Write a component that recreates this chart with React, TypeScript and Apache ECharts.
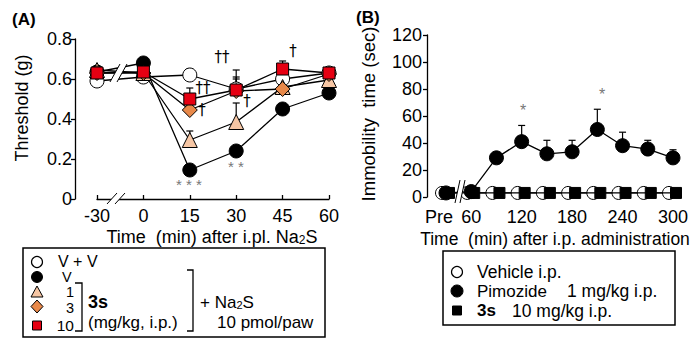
import React, { useEffect, useRef } from "react";
import * as echarts from "echarts";

// ---------- Panel A data ----------
const catsA = ["-30", "0", "15", "30", "45", "60"];
const vvA = [0.59, 0.61, 0.62, 0.55, 0.6, 0.63];
const vA = [0.635, 0.68, 0.145, 0.24, 0.45, 0.53];
const d1A = [0.645, 0.63, 0.295, 0.385, 0.56, 0.595];
const d3A = [0.63, 0.63, 0.445, 0.54, 0.55, 0.625];
const d10A = [0.63, 0.635, 0.5, 0.545, 0.65, 0.63];
const vvErrA = [null, null, 0.65, 0.61, null, null];
const vErrA = [null, 0.7, null, null, null, null];
const d1ErrA = [null, null, 0.34, 0.48, null, null];
const d3ErrA = [null, null, 0.47, 0.6, null, null];
const d10ErrA = [null, null, 0.555, 0.645, 0.69, null];

// ---------- Panel B data ----------
const catsB = ["Pre", "60", "90", "120", "150", "180", "210", "240", "270", "300"];
const shownB = ["Pre", "60", "120", "180", "240", "300"];
const vehicleB = [3, 3, 3, 3, 3, 3, 3, 3, 3, 3];
const pimozideB = [3, 4, 29, 41, 32, 33.5, 50, 38, 35.5, 29];
const pimozideErrB = [null, null, null, 53, 42, 42, 65, 48, 42, 35];
const s3B = [3, 3, 3, 3, 3, 3, 3, 3, 3, 3];

const FONT = "Liberation Sans, Arial, sans-serif";

function errData(mean: number[], top: (number | null)[]) {
  const out: number[][] = [];
  top.forEach((t, i) => {
    if (t !== null) out.push([i, mean[i], t]);
  });
  return out;
}

const renderErr = (params: any, api: any) => {
  const x = api.value(0);
  const p0 = api.coord([x, api.value(1)]);
  const p1 = api.coord([x, api.value(2)]);
  return {
    type: "group",
    children: [
      { type: "line", shape: { x1: p0[0], y1: p0[1], x2: p1[0], y2: p1[1] }, style: { stroke: "#000", lineWidth: 1.2 } },
      { type: "line", shape: { x1: p1[0] - 3.5, y1: p1[1], x2: p1[0] + 3.5, y2: p1[1] }, style: { stroke: "#000", lineWidth: 1.2 } },
    ],
  };
};

function breakMark(x1: number, yb: number, x2: number, yt: number, gap: number) {
  return [
    {
      type: "polygon",
      shape: { points: [[x1, yb], [x2, yt], [x2 + gap, yt], [x1 + gap, yb]] },
      style: { fill: "#fff", stroke: "none" },
      z: 100,
    },
    { type: "line", shape: { x1: x1, y1: yb, x2: x2, y2: yt }, style: { stroke: "#000", lineWidth: 1 }, z: 101 },
    { type: "line", shape: { x1: x1 + gap, y1: yb, x2: x2 + gap, y2: yt }, style: { stroke: "#000", lineWidth: 1 }, z: 101 },
  ];
}

function txt(text: string, x: number, y: number, opts: any = {}) {
  const style: any = {
    text,
    fontFamily: opts.fontFamily || FONT,
    fontSize: opts.fontSize || 18,
    fontWeight: opts.fontWeight || "normal",
    fill: opts.fill || "#000",
    textAlign: opts.align || "left",
    textVerticalAlign: opts.valign || "middle",
  };
  if (opts.rich) style.rich = opts.rich;
  return { type: "text", x, y, z: 110, rotation: opts.rotation || 0, style };
}

const subRich = (fs: number) => ({
  a: { fontSize: fs, fontFamily: FONT, fill: "#000" },
  s: { fontSize: Math.round(fs * 0.65), fontFamily: FONT, fill: "#000", verticalAlign: "bottom", padding: [6, 0, 0, 0] },
});

export default function App() {
  const ref = useRef<HTMLDivElement>(null);
  useEffect(() => {
    if (!ref.current) return;
    const chart = echarts.init(ref.current, null, { renderer: "svg" });
    const lineStyle = { color: "#000", width: 1.3 };
    const itemBorder = { borderColor: "#000", borderWidth: 1 };
    const lineSeriesA = (name: string, data: number[], symbol: string, size: number, fill: string) => ({
      type: "line",
      name,
      xAxisIndex: 0,
      yAxisIndex: 0,
      data,
      symbol,
      symbolSize: size,
      showAllSymbol: true,
      lineStyle,
      itemStyle: { color: fill, ...itemBorder },
      z: 3,
    });
    const axisText = { color: "#000", fontFamily: FONT, fontSize: 18 };
    const dag = { align: "center", fontSize: 15, fontFamily: "DejaVu Sans, sans-serif", fill: "#000" };
    const lg = 14.5;
    const lgB = 17;

    const option: any = {
      animation: false,
      backgroundColor: "#fff",
      grid: [
        { left: 97, right: 371, top: 39, bottom: 148 },
        { left: 446, right: 27, top: 35, bottom: 150 },
      ],
      xAxis: [
        {
          type: "category",
          gridIndex: 0,
          data: catsA,
          boundaryGap: false,
          offset: 1,
          axisLine: { lineStyle: { color: "#000", width: 1.3 } },
          axisTick: { inside: true, length: 4, lineStyle: { color: "#000", width: 1.3 } },
          axisLabel: { ...axisText, margin: 7 },
        },
        {
          type: "category",
          gridIndex: 1,
          data: catsB,
          boundaryGap: false,
          axisLine: { show: false },
          axisTick: { show: false },
          axisLabel: {
            ...axisText,
            margin: 11,
            interval: 0,
            formatter: (v: string) => (v === "Pre" ? "{p|Pre}" : shownB.indexOf(v) >= 0 ? v : ""),
            rich: { p: { color: "#000", fontFamily: FONT, fontSize: 18, padding: [0, 14, 0, 0] } },
          },
        },
      ],
      yAxis: [
        {
          type: "value",
          gridIndex: 0,
          min: 0,
          max: 0.8,
          interval: 0.2,
          offset: 22,
          splitLine: { show: false },
          axisLine: { show: true, lineStyle: { color: "#000", width: 1.3 } },
          axisTick: { show: true, length: 4, lineStyle: { color: "#000", width: 1.3 } },
          axisLabel: { ...axisText, margin: 3, formatter: (v: number) => (v === 0 ? "0" : v.toFixed(1)) },
        },
        {
          type: "value",
          gridIndex: 1,
          min: 0,
          max: 120,
          interval: 20,
          offset: 19,
          splitLine: { show: false },
          axisLine: { show: true, lineStyle: { color: "#000", width: 1.3 } },
          axisTick: { show: true, length: 4, lineStyle: { color: "#000", width: 1.3 } },
          axisLabel: { ...axisText, margin: 5 },
        },
      ],
      series: [
        ...[
          [vvA, vvErrA],
          [vA, vErrA],
          [d1A, d1ErrA],
          [d3A, d3ErrA],
          [d10A, d10ErrA],
        ].map(([m, e]) => ({
          type: "custom",
          xAxisIndex: 0,
          yAxisIndex: 0,
          renderItem: renderErr,
          data: errData(m as number[], e as (number | null)[]),
          z: 2,
          silent: true,
        })),
        lineSeriesA("V + V", vvA, "circle", 14, "#fff"),
        lineSeriesA("V", vA, "circle", 14, "#000"),
        lineSeriesA("1", d1A, "triangle", 15, "#f6c6a4"),
        lineSeriesA("3", d3A, "diamond", 15, "#e8894a"),
        lineSeriesA("10", d10A, "rect", 12, "#e60012"),
        {
          type: "custom",
          xAxisIndex: 1,
          yAxisIndex: 1,
          renderItem: renderErr,
          data: errData(pimozideB, pimozideErrB),
          z: 2,
          silent: true,
        },
        {
          type: "line",
          name: "Vehicle",
          xAxisIndex: 1,
          yAxisIndex: 1,
          data: vehicleB,
          symbol: "circle",
          symbolSize: 13,
          symbolOffset: [-4, 0],
          showAllSymbol: true,
          lineStyle,
          itemStyle: { color: "#fff", ...itemBorder },
          z: 3,
        },
        {
          type: "line",
          name: "3s",
          xAxisIndex: 1,
          yAxisIndex: 1,
          data: s3B,
          symbol: "rect",
          symbolSize: 11,
          symbolOffset: [3, 0],
          showAllSymbol: true,
          lineStyle,
          itemStyle: { color: "#000", ...itemBorder },
          z: 4,
        },
        {
          type: "line",
          name: "Pimozide",
          xAxisIndex: 1,
          yAxisIndex: 1,
          data: pimozideB,
          symbol: "circle",
          symbolSize: 14,
          showAllSymbol: true,
          lineStyle,
          itemStyle: { color: "#000", ...itemBorder },
          z: 5,
        },
      ],
      graphic: [
        ...breakMark(107, 204, 117, 193, 8),
        ...breakMark(110, 82, 120, 64, 7),
        ...breakMark(455, 203, 460, 180, 5),
        txt("(A)", 12, 19, { fontWeight: "bold", fontSize: 17 }),
        txt("(B)", 356, 17, { fontWeight: "bold", fontSize: 17 }),
        txt("{a|Time  (min) after i.pl. Na}{s|2}{a|S}", 212, 237, { align: "center", rich: subRich(18) }),
        txt("Time  (min) after i.p. administration", 555, 239, { align: "center", fontSize: 17.5 }),
        txt("Threshold (g)", 22, 108, { align: "center", rotation: Math.PI / 2, fontSize: 18 }),
        txt("Immobility  time (sec)", 368, 114, { align: "center", rotation: Math.PI / 2, fontSize: 18.5 }),
        txt("* * *", 189, 184, { align: "center", fill: "#777", fontSize: 15 }),
        txt("* *", 236, 166, { align: "center", fill: "#777", fontSize: 15 }),
        txt("††", 222, 57, dag),
        txt("††", 203, 88, dag),
        txt("†", 202, 110, dag),
        txt("†", 247, 101, dag),
        txt("†", 293, 51, dag),
        txt("*", 523, 110, { align: "center", fill: "#777", fontSize: 16 }),
        txt("*", 602, 94, { align: "center", fill: "#777", fontSize: 16 }),
        // legend A
        { type: "rect", shape: { x: 23, y: 248, width: 302, height: 89 }, style: { fill: "#fff", stroke: "#000", lineWidth: 1.5 }, z: 90 },
        { type: "circle", shape: { cx: 37, cy: 262, r: 5.5 }, style: { fill: "#fff", stroke: "#000", lineWidth: 1.2 }, z: 110 },
        { type: "circle", shape: { cx: 37, cy: 277, r: 5.5 }, style: { fill: "#000", stroke: "#000", lineWidth: 1 }, z: 110 },
        { type: "polygon", shape: { points: [[37, 286], [43, 297], [31, 297]] }, style: { fill: "#f6c6a4", stroke: "#000", lineWidth: 1 }, z: 110 },
        { type: "polygon", shape: { points: [[37, 300], [43, 306.5], [37, 313], [31, 306.5]] }, style: { fill: "#e8894a", stroke: "#000", lineWidth: 1 }, z: 110 },
        { type: "rect", shape: { x: 32.5, y: 321, width: 9, height: 9 }, style: { fill: "#e60012", stroke: "#000", lineWidth: 1 }, z: 110 },
        txt("V + V", 58, 261, { fontSize: lg + 1.5 }),
        txt("V", 62, 277, { fontSize: lg }),
        txt("1", 74, 292, { fontSize: lg, align: "right" }),
        txt("3", 74, 308, { fontSize: lg, align: "right" }),
        txt("10", 74, 325, { fontSize: lg + 1, align: "right" }),
        { type: "polyline", shape: { points: [[75, 283], [82, 283], [82, 331], [75, 331]] }, style: { fill: "none", stroke: "#000", lineWidth: 1.3 }, z: 110 },
        { type: "polyline", shape: { points: [[187, 270], [193, 270], [193, 331], [187, 331]] }, style: { fill: "none", stroke: "#000", lineWidth: 1.3 }, z: 110 },
        txt("3s", 88, 302, { fontSize: 18, fontWeight: "bold" }),
        txt("(mg/kg, i.p.)", 88, 322, { fontSize: 17 }),
        txt("{a|+ Na}{s|2}{a|S}", 200, 302, { rich: subRich(17) }),
        txt("10 pmol/paw", 217, 322, { fontSize: 17 }),
        // legend B
        { type: "rect", shape: { x: 443, y: 251, width: 232, height: 74 }, style: { fill: "#fff", stroke: "#000", lineWidth: 1.5 }, z: 90 },
        { type: "circle", shape: { cx: 457, cy: 272, r: 5.5 }, style: { fill: "#fff", stroke: "#000", lineWidth: 1.2 }, z: 110 },
        { type: "circle", shape: { cx: 457, cy: 291, r: 6 }, style: { fill: "#000", stroke: "#000", lineWidth: 1 }, z: 110 },
        { type: "rect", shape: { x: 452.5, y: 306, width: 9, height: 9 }, style: { fill: "#000", stroke: "#000", lineWidth: 1 }, z: 110 },
        txt("Vehicle i.p.", 477, 272, { fontSize: lgB + 0.5 }),
        txt("Pimozide", 477, 291, { fontSize: lgB }),
        txt("1 mg/kg i.p.", 567, 291, { fontSize: lgB + 0.5 }),
        txt("3s", 477, 310.5, { fontSize: lgB, fontWeight: "bold" }),
        txt("10 mg/kg i.p.", 512, 310.5, { fontSize: lgB + 0.5 }),
      ],
    };
    chart.setOption(option);
    return () => chart.dispose();
  }, []);
  return <div ref={ref} style={{ position: "absolute", left: 0, top: 0, width: 700, height: 347 }} />;
}
